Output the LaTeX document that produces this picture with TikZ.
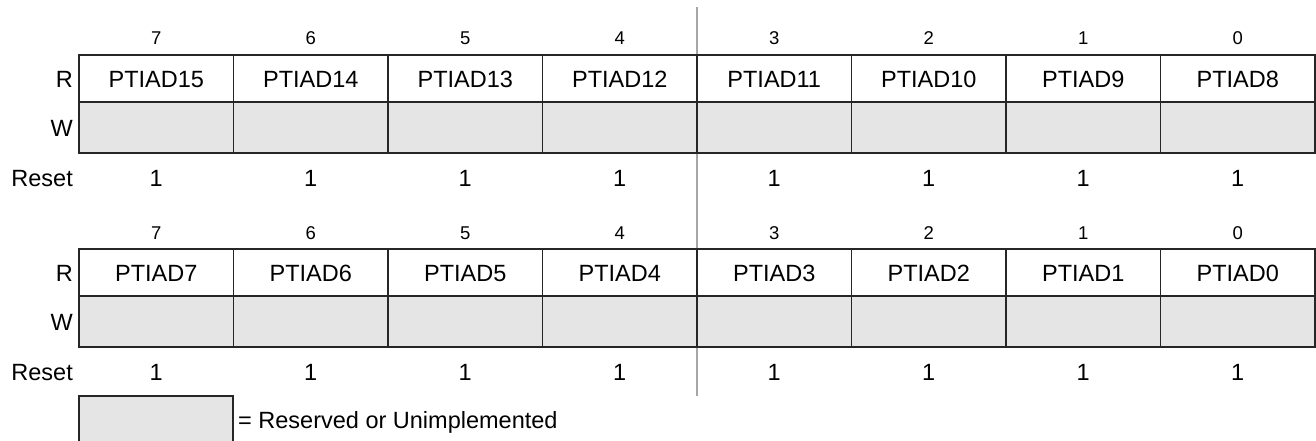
\documentclass[tikz,border=0pt]{standalone}
\usepackage{fontspec}
\setmainfont{Liberation Sans}
\begin{document}
\begin{tikzpicture}[x=1pt, y=-1pt,
    declare function={x0 = 79; cw = 154.5;},
    cell/.style={draw=black!85, line width=1.6pt},
    rsv/.style={cell, fill=black!10},
    bitno/.style={inner sep=0pt, anchor=base, font=\fontsize{18.5}{22}\selectfont},
    txt/.style={inner sep=0pt, anchor=base, font=\fontsize{23.5}{28}\selectfont}]
    \useasboundingbox (0,0) rectangle (1316,441);

    % 中间的灰色分隔线
    \draw[black!35, line width=1.6pt] (697,7) -- (697,396);

    % 两行寄存器：高字节与低字节
    \foreach \r/\hi in {1/15, 2/7} {
    \begin{scope}[shift={(0,{(\r-1)*194})}]
        % 行标签
        \node[txt, anchor=base east] (lblR\r) at (73,87.5) {R};
        \node[txt, anchor=base east] (lblW\r) at (73,136.5) {W};
        \node[txt, anchor=base east] (lblRst\r) at (73,186) {Reset};

        \foreach \i in {0,...,7} {
            \pgfmathtruncatemacro{\n}{\hi-\i}
            \pgfmathtruncatemacro{\b}{7-\i}
            % 读行与写行（写行为保留位）
            \draw[cell] ({x0+\i*cw},55) rectangle ({x0+(\i+1)*cw},102);
            \draw[rsv] ({x0+\i*cw},102) rectangle ({x0+(\i+1)*cw},153);
            % 位号、位名、复位值
            \node[bitno] (bit\r-\i) at ({x0+(\i+0.5)*cw},45) {\b};
            \node[txt] (rd\r-\i) at ({x0+(\i+0.5)*cw},87.5) {PTIAD\n};
            \node[txt] (rst\r-\i) at ({x0+(\i+0.5)*cw},186) {1};
        }
    \end{scope}
    }

    % 图例
    \draw[rsv] (79,396) rectangle (233,446);
    \node[txt, anchor=base west] (legend) at (238,428) {= Reserved or Unimplemented};
\end{tikzpicture}
\end{document}
